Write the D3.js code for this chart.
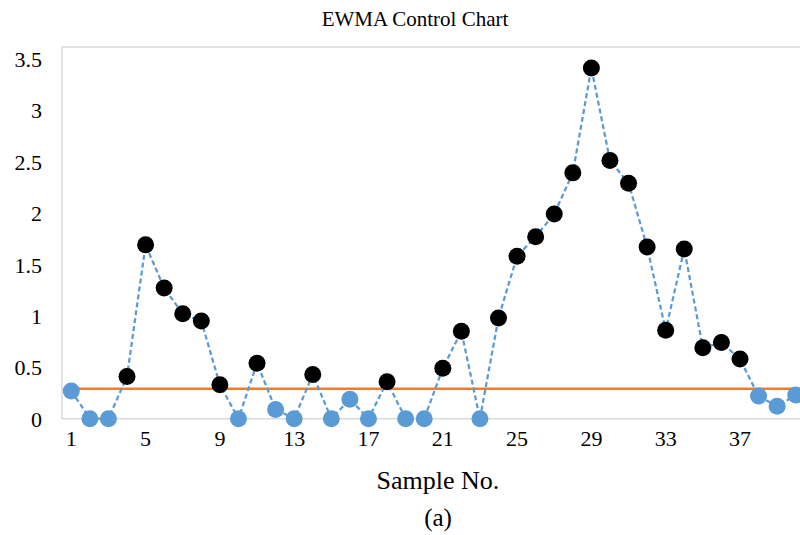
<!DOCTYPE html>
<html>
<head>
<meta charset="utf-8">
<script src="https://cdn.jsdelivr.net/npm/d3@7"></script>
<style>
  body { margin: 0; background: #fff; }
  svg { display: block; }
  svg text { font-family: "Liberation Serif", "Times New Roman", serif; fill: #000; }
</style>
</head>
<body>
<div id="chart"></div>
<script>
// Data
const samples = d3.range(1, 41);
const ewma = [0.27, 0, 0, 0.41, 1.69, 1.27, 1.02, 0.95, 0.33, 0,
              0.54, 0.09, 0, 0.43, 0, 0.19, 0, 0.36, 0, 0,
              0.49, 0.85, 0, 0.98, 1.58, 1.77, 1.99, 2.39, 3.41, 2.51,
              2.29, 1.67, 0.86, 1.65, 0.69, 0.74, 0.58, 0.22, 0.12, 0.23];
const controlLimit = 0.29;
const yTicks = [0, 0.5, 1, 1.5, 2, 2.5, 3, 3.5];
const xTicks = [1, 5, 9, 13, 17, 21, 25, 29, 33, 37];

const width = 800, height = 535;
const plot = { left: 62, right: 805, top: 47, bottom: 418.7 };

const svg = d3.select("#chart").append("svg")
    .attr("width", width)
    .attr("height", height);

const x = d3.scaleBand()
    .domain(samples)
    .range([plot.left, plot.right]);

const y = d3.scaleLinear()
    .domain([0, 3.5])
    .range([plot.bottom, 58.7]);

const cx = d => x(d) + x.bandwidth() / 2;

// plot area frame (right edge falls outside the picture)
svg.append("rect")
    .attr("x", plot.left)
    .attr("y", plot.top)
    .attr("width", plot.right - plot.left)
    .attr("height", plot.bottom - plot.top)
    .attr("fill", "none")
    .attr("stroke", "#d9d9d9")
    .attr("stroke-width", 1.5);

// Y axis labels
const yAxis = svg.append("g")
    .attr("transform", `translate(${plot.left},0)`)
    .call(d3.axisLeft(y).tickValues(yTicks).tickSize(0).tickPadding(20).tickFormat(d3.format("")));
yAxis.attr("font-family", null).attr("font-size", null);
yAxis.select(".domain").remove();
yAxis.selectAll("text")
    .style("font-size", "22px")
    .attr("dy", "0.35em");

// X axis labels
const xAxis = svg.append("g")
    .attr("transform", `translate(0,${plot.bottom})`)
    .call(d3.axisBottom(x).tickValues(xTicks).tickSize(0).tickPadding(20));
xAxis.attr("font-family", null).attr("font-size", null);
xAxis.select(".domain").remove();
xAxis.selectAll("text")
    .style("font-size", "22px")
    .attr("dy", "0.35em");

// control limit
svg.append("line")
    .attr("x1", cx(1))
    .attr("x2", plot.right)
    .attr("y1", y(controlLimit))
    .attr("y2", y(controlLimit))
    .attr("stroke", "#ED7D31")
    .attr("stroke-width", 2.5);

// EWMA line
const points = samples.map((s, i) => ({ s: s, v: ewma[i] }));

svg.append("path")
    .datum(points)
    .attr("fill", "none")
    .attr("stroke", "#5B9BD5")
    .attr("stroke-width", 2.25)
    .attr("stroke-dasharray", "5,3")
    .attr("d", d3.line().x(d => cx(d.s)).y(d => y(d.v)));

svg.append("g")
    .selectAll("circle")
    .data(points)
    .join("circle")
    .attr("cx", d => cx(d.s))
    .attr("cy", d => y(d.v))
    .attr("r", 8.5)
    .attr("fill", d => d.v > controlLimit ? "#000" : "#5B9BD5");

// titles
svg.append("text")
    .attr("x", 415)
    .attr("y", 26)
    .attr("text-anchor", "middle")
    .style("font-size", "21px")
    .text("EWMA Control Chart");

svg.append("text")
    .attr("x", 438)
    .attr("y", 489)
    .attr("text-anchor", "middle")
    .style("font-size", "26px")
    .text("Sample No.");

svg.append("text")
    .attr("x", 438)
    .attr("y", 526)
    .attr("text-anchor", "middle")
    .style("font-size", "25px")
    .text("(a)");
</script>
</body>
</html>
